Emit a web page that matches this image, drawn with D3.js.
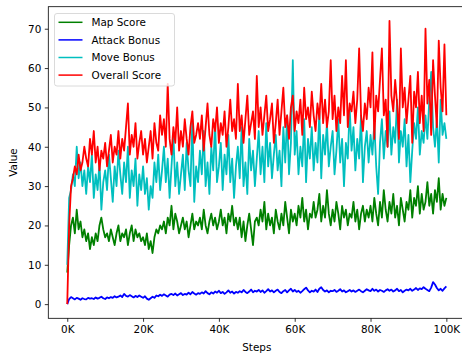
<!DOCTYPE html>
<html>
<head>
<meta charset="utf-8">
<script src="https://cdn.jsdelivr.net/npm/d3@7"></script>
<style>
  body { margin: 0; background: #fff; }
  svg { display: block; font-family: "DejaVu Sans", sans-serif; }
</style>
</head>
<body>
<svg id="chart" width="462" height="354"></svg>
<script>
// steps: one sample every 500 steps, 0 .. 100K
const stepSize = 500;
const xTicks = [0, 20000, 40000, 60000, 80000, 100000];
const yTicks = [0, 10, 20, 30, 40, 50, 60, 70];

const mapScore = [
  8, 15, 20, 22, 18, 24, 19, 21, 17, 19,
  16, 18, 14, 17, 15, 18, 16, 20, 22, 19,
  17, 18, 16, 19, 17, 15, 18, 20, 16, 18,
  17, 19, 15, 18, 20, 16, 19, 17, 18, 16,
  17, 15, 18, 14, 16, 13, 17, 19, 18, 20,
  19, 21, 18, 22, 20, 25, 19, 23, 21, 18,
  20, 22, 19, 21, 17, 20, 23, 19, 21, 20,
  22, 19, 24, 20, 18, 21, 23, 20, 22, 19,
  21, 24, 20, 22, 18, 23, 21, 25, 20, 22,
  19, 22, 17, 21, 16, 20, 23, 19, 15, 21,
  22, 20, 24, 21, 26, 19, 23, 20, 22, 18,
  24, 21, 19, 23, 20, 26, 22, 18, 24, 21,
  23, 20, 25, 22, 27, 21, 24, 19, 23, 22,
  26, 22, 24, 28, 21, 25, 22, 29, 23, 20,
  24, 21, 26, 23, 19, 25, 22, 24, 20, 23,
  22, 26, 21, 24, 19, 23, 25, 21, 24, 22,
  25, 21, 27, 23, 20, 26, 22, 29, 24, 21,
  26, 23, 28, 22, 25, 20, 27, 24, 21, 26,
  24, 29, 22, 27, 25, 30, 23, 28, 24, 26,
  31, 25, 28, 23, 29, 26, 32, 24, 28, 25,
  27
];

const attackBonus = [
  0, 1.3, 1.8, 1.5, 1.2, 1.6, 1.4, 1.1, 1.5, 1.3,
  1.2, 1.6, 1.4, 1.5, 1.3, 1.7, 1.4, 1.6, 1.9, 1.5,
  1.3, 1.7, 1.5, 1.8, 1.6, 2.0, 1.7, 1.9, 2.2, 1.8,
  2.6, 2.1, 1.9, 2.3, 2.0, 1.7, 2.1, 1.8, 2.2, 1.9,
  1.6, 2.0, 1.4, 1.1, 1.5, 1.9, 1.6, 2.2, 2.0, 2.4,
  2.1, 2.5, 2.2, 1.9, 2.4, 2.6, 2.3, 2.7, 2.2, 2.5,
  2.8, 2.3, 2.6, 2.4, 2.9, 2.5, 3.1, 2.7, 2.4, 2.8,
  2.6, 3.0, 2.7, 3.3, 2.8, 2.5, 3.0, 2.7, 3.2, 2.9,
  3.4, 2.8, 3.1, 2.6, 3.0, 3.5, 2.9, 3.2, 2.7, 3.1,
  2.9, 3.3, 3.0, 3.6, 3.1, 2.8, 3.2, 3.7, 3.0, 3.4,
  3.2, 3.6, 3.1, 3.5, 2.9, 3.3, 3.8, 3.2, 3.5, 3.0,
  3.4, 3.7, 3.1, 2.8, 3.3, 3.6, 3.0, 3.5, 3.9, 3.2,
  3.6, 3.1, 3.4, 2.9, 3.3, 3.8, 4.2, 3.5, 3.0, 3.4,
  3.2, 3.7, 3.1, 3.9, 4.3, 3.6, 3.2, 3.5, 3.0, 3.4,
  3.3, 3.6, 3.1, 3.4, 3.8, 3.2, 3.5, 3.0, 3.3, 3.6,
  3.2, 3.5, 3.1, 3.4, 3.7, 3.3, 3.0, 3.4, 3.8, 3.5,
  3.3, 3.9, 3.4, 3.7, 3.2, 3.6, 3.4, 3.1, 3.5, 3.8,
  3.4, 3.7, 3.2, 3.5, 3.9, 3.3, 3.6, 3.0, 3.4, 3.7,
  3.5, 3.9, 3.4, 3.7, 4.1, 3.6, 4.0, 3.8, 4.3, 3.9,
  3.6, 3.3, 4.2, 5.6, 5.0, 4.1, 3.5, 3.9, 3.4, 4.0,
  4.5
];

const moveBonus = [
  10, 27, 29, 33, 30, 40, 32, 36, 30, 34,
  28, 35, 31, 38, 27, 33, 29, 36, 24, 31,
  34, 29, 38, 32, 26, 35, 30, 39, 33, 28,
  36, 31, 40, 27, 34, 30, 37, 25, 33, 29,
  35, 28, 32, 24, 30, 27, 36, 31, 38, 29,
  34, 40, 31, 37, 27, 35, 43, 30, 36, 28,
  33, 38, 29, 41, 34, 30, 47, 26, 35, 31,
  39, 33, 44, 30, 36, 28, 40, 34, 46, 31,
  35, 41, 29, 38, 33, 43, 31, 37, 27, 35,
  40, 32, 45, 30, 36, 28, 42, 34, 39, 30,
  37, 44, 33, 40, 31, 46, 35, 41, 32, 38,
  43, 34, 39, 30, 45, 36, 48, 33, 41, 62,
  38, 44, 33, 40, 35, 47, 31, 42, 37, 45,
  34, 41, 36, 49, 32, 43, 38, 46, 35, 40,
  44, 33, 39, 47, 36, 42, 30, 41, 37, 50,
  39, 45, 34, 42, 37, 48, 31, 40, 44, 36,
  43, 38, 46, 35, 28, 41, 47, 37, 44, 40,
  49, 38, 45, 41, 52, 36, 44, 40, 47, 35,
  43, 31, 39, 46, 42, 50, 38, 44, 41, 48,
  42, 52, 59, 45, 40, 47, 36, 52, 43, 46,
  42
];

const overallScore = [
  0, 20, 30, 32, 35, 33, 38, 34, 36, 40,
  37, 35, 42, 38, 44, 36, 40, 34, 39, 37,
  41, 35, 39, 43, 36, 40, 38, 44, 37, 42,
  39, 45, 51, 38, 43, 40, 46, 37, 41, 44,
  38, 42, 36, 40, 44, 37, 46, 41, 39, 48,
  43, 47, 40, 56, 42, 38, 45, 41, 50, 39,
  44, 40, 47, 42, 38, 45, 49, 41, 43, 46,
  42, 48, 39, 45, 51, 43, 40, 47, 44, 50,
  41, 46, 43, 49, 40, 45, 52, 44, 47, 42,
  56, 44, 48, 41, 47, 53, 43, 46, 49, 42,
  58, 45, 50, 43, 48, 53, 44, 47, 51, 41,
  46, 52, 43, 49, 55, 45, 48, 42, 50, 53,
  44, 49, 46, 52, 43, 55, 47, 50, 45, 54,
  48, 44, 51, 47, 56, 46, 52, 45, 49, 62,
  47, 53, 44, 50, 46, 58, 48, 62, 45, 51,
  49, 54, 46, 52, 65, 48, 44, 51, 47, 55,
  50, 64, 42, 53, 49, 57, 65, 48, 52, 40,
  72, 53, 49, 57, 51, 42, 65, 50, 55, 46,
  52, 58, 41, 54, 50, 59, 46, 53, 44, 70,
  51, 57, 43, 62, 53, 45, 67, 55, 49, 66,
  48
];

const seriesNames = ['Map Score', 'Attack Bonus', 'Move Bonus', 'Overall Score'];
const seriesColors = ['#008000', '#0000ff', '#00bfbf', '#ff0000'];
const seriesValues = [mapScore, attackBonus, moveBonus, overallScore];

const svg = d3.select('#chart');
const plot = { left: 48.3, right: 465.3, top: 6.7, bottom: 318.3 };

// matplotlib style 5% margins
const allVals = seriesValues.flat();
const yMin = d3.min(allVals), yMax = d3.max(allVals);
const yPad = (yMax - yMin) * 0.05;
const xMax = (mapScore.length - 1) * stepSize;

const x = d3.scaleLinear()
  .domain([-xMax * 0.05, xMax * 1.05])
  .range([plot.left, plot.right]);
const y = d3.scaleLinear()
  .domain([yMin - yPad, yMax + yPad])
  .range([plot.bottom, plot.top]);

const line = d3.line()
  .x((d, i) => x(i * stepSize))
  .y(d => y(d));

svg.append('clipPath').attr('id', 'clip')
  .append('rect')
  .attr('x', plot.left).attr('y', plot.top)
  .attr('width', plot.right - plot.left).attr('height', plot.bottom - plot.top);

const lines = svg.append('g').attr('clip-path', 'url(#clip)');
seriesValues.forEach((vals, k) => {
  lines.append('path')
    .datum(vals)
    .attr('d', line)
    .attr('fill', 'none')
    .attr('stroke', seriesColors[k])
    .attr('stroke-width', 1.8)
    .attr('stroke-linejoin', 'round');
});

// axes
const xAxis = svg.append('g')
  .attr('transform', `translate(0,${plot.bottom})`)
  .call(d3.axisBottom(x).tickValues(xTicks).tickSize(3.5).tickPadding(3.5)
    .tickFormat(d => (d / 1000) + 'K'));
const yAxis = svg.append('g')
  .attr('transform', `translate(${plot.left},0)`)
  .call(d3.axisLeft(y).tickValues(yTicks).tickSize(3.5).tickPadding(3.5));

[xAxis, yAxis].forEach(g => {
  g.select('.domain').remove();
  g.selectAll('.tick line').attr('stroke', '#000').attr('stroke-width', 0.8);
  g.selectAll('.tick text')
    .attr('fill', '#000')
    .style('font-family', '"DejaVu Sans", sans-serif')
    .style('font-size', '10.4px');
});

// frame
svg.append('rect')
  .attr('x', plot.left).attr('y', plot.top)
  .attr('width', plot.right - plot.left).attr('height', plot.bottom - plot.top)
  .attr('fill', 'none').attr('stroke', '#000').attr('stroke-width', 0.8);

// axis labels
svg.append('text')
  .attr('x', (plot.left + plot.right) / 2).attr('y', 351)
  .attr('text-anchor', 'middle')
  .style('font-size', '10.4px')
  .text('Steps');
svg.append('text')
  .attr('transform', `translate(17,${(plot.top + plot.bottom) / 2}) rotate(-90)`)
  .attr('text-anchor', 'middle')
  .style('font-size', '10.4px')
  .text('Value');

// legend
const legend = svg.append('g').attr('transform', 'translate(54.5,13.5)');
legend.append('rect')
  .attr('width', 120).attr('height', 72.5)
  .attr('rx', 2.5)
  .attr('fill', 'rgba(255,255,255,0.8)')
  .attr('stroke', '#d0d0d0').attr('stroke-width', 0.8);
seriesNames.forEach((name, k) => {
  const ly = 8.8 + k * 17.6;
  legend.append('line')
    .attr('x1', 4).attr('x2', 28)
    .attr('y1', ly).attr('y2', ly)
    .attr('stroke', seriesColors[k]).attr('stroke-width', 1.5);
  legend.append('text')
    .attr('x', 37).attr('y', ly + 3.8)
    .style('font-size', '10.4px')
    .text(name);
});
</script>
</body>
</html>
